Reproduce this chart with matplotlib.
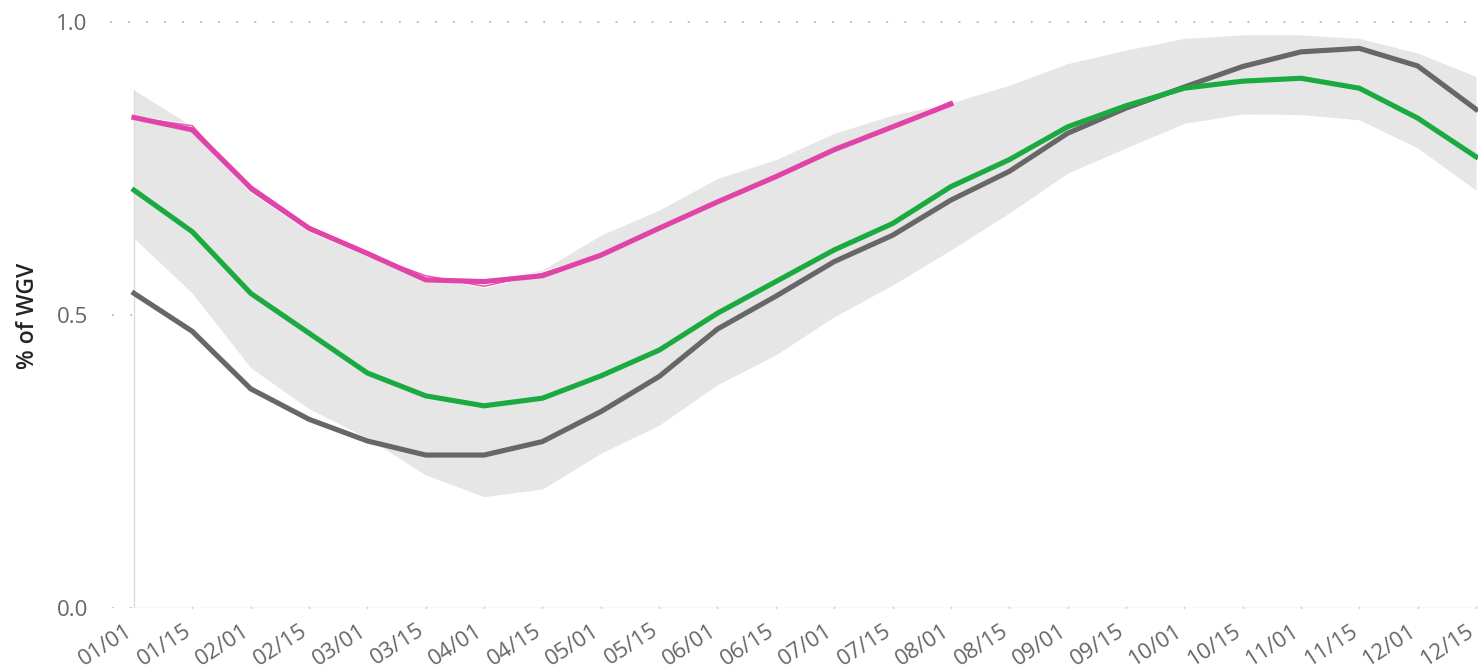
from __future__ import annotations

import matplotlib

matplotlib.use("Agg")
import matplotlib.patheffects as pe
import matplotlib.pyplot as plt
from matplotlib.transforms import ScaledTranslation

DATES = [
    "01/01", "01/15", "02/01", "02/15", "03/01", "03/15", "04/01", "04/15",
    "05/01", "05/15", "06/01", "06/15", "07/01", "07/15", "08/01", "08/15",
    "09/01", "09/15", "10/01", "10/15", "11/01", "11/15", "12/01", "12/15",
]

# range of past years (shaded band)
BAND_LOW = [
    0.631, 0.537, 0.410, 0.340, 0.290, 0.227, 0.190, 0.203,
    0.264, 0.312, 0.381, 0.432, 0.497, 0.551, 0.611, 0.674,
    0.742, 0.785, 0.827, 0.843, 0.842, 0.833, 0.785, 0.713,
]
BAND_HIGH = [
    0.884, 0.822, 0.715, 0.645, 0.603, 0.566, 0.557, 0.577,
    0.636, 0.679, 0.733, 0.765, 0.810, 0.841, 0.862, 0.892,
    0.929, 0.952, 0.972, 0.978, 0.978, 0.972, 0.947, 0.907,
]
GRAY = [
    0.537, 0.472, 0.374, 0.322, 0.285, 0.261, 0.261, 0.284,
    0.335, 0.395, 0.476, 0.532, 0.591, 0.636, 0.696, 0.745,
    0.810, 0.853, 0.889, 0.924, 0.949, 0.955, 0.925, 0.851,
]
GREEN = [
    0.713, 0.642, 0.537, 0.469, 0.401, 0.362, 0.345, 0.358,
    0.396, 0.440, 0.503, 0.557, 0.611, 0.656, 0.719, 0.765,
    0.821, 0.857, 0.887, 0.899, 0.904, 0.887, 0.836, 0.770,
]
# current year, only up to 08/01
PINK = [
    0.837, 0.816, 0.717, 0.648, 0.605, 0.560, 0.557, 0.567,
    0.602, 0.648, 0.693, 0.736, 0.782, 0.821, 0.860,
]
PINK_THIN = [
    0.837, 0.823, 0.712, 0.645, 0.603, 0.567, 0.549, 0.571,
    0.602, 0.648, 0.693, 0.736, 0.782, 0.821, 0.864,
]

FONT = ["Open Sans", "DejaVu Sans"]
TICK_COLOR = "#666666"


def main() -> None:
    plt.rcParams["font.family"] = FONT
    fig = plt.figure(figsize=(14.78, 6.68), dpi=100)
    ax = fig.add_axes([110 / 1478, 60 / 668, 1368 / 1478, 603.6 / 668])

    x = list(range(len(DATES)))
    ax.fill_between(x, BAND_LOW, BAND_HIGH, color="#e6e6e6", linewidth=0, zorder=1)
    ax.vlines(0, 0, BAND_HIGH[0], color="#dcdcdc", linewidth=1, zorder=2)
    ax.plot([0, x[-1] + 1], [0, 0], color="#e2e2e2", linewidth=1, zorder=2)

    # dotted gridlines, the plot area hides them except at the top
    ax.axhline(1.0, color="#b8b8b8", linestyle=(0, (1, 9)), linewidth=1.3, zorder=0)
    for level in (0.0, 0.5):
        ax.plot([-1, 0], [level, level], color="#b8b8b8", linestyle=(0, (1, 9)),
                linewidth=1.3, zorder=0)
    ax.plot(x[1:], [0.0] * (len(x) - 1), linestyle="none", marker="|",
            markersize=3, color="#d0d0d0", zorder=2)

    ax.plot(x, GRAY, color="#676767", linewidth=3.7, zorder=3)
    ax.plot(x, GREEN, color="#1aaa3f", linewidth=3.7, zorder=4)
    ax.plot(
        x[: len(PINK_THIN)],
        PINK_THIN,
        color="#e35bb2",
        linewidth=1.1,
        zorder=5,
        path_effects=[pe.Stroke(linewidth=2.4, foreground="white"), pe.Normal()],
    )
    ax.plot(x[: len(PINK)], PINK, color="#e044a8", linewidth=3.7, zorder=6)

    ax.set_xlim(-24 / 58.35, 23 + 2 / 58.35)
    ax.set_ylim(0, 1.03)
    ax.set_yticks([0.0, 0.5, 1.0], ["0.0", "0.5", "1.0"])
    ax.set_xticks(x, DATES)
    ax.tick_params(axis="y", length=0, pad=16, labelsize=16, labelcolor=TICK_COLOR)
    ax.tick_params(axis="x", length=0, pad=0, labelsize=16, labelcolor=TICK_COLOR)
    shift = ScaledTranslation(-9 / 100, -12 / 100, fig.dpi_scale_trans)
    for label in ax.get_xticklabels():
        label.set_rotation(33)
        label.set_ha("right")
        label.set_va("top")
        label.set_rotation_mode("anchor")
        label.set_transform(label.get_transform() + shift)
    for spine in ax.spines.values():
        spine.set_visible(False)

    fig.text(28 / 1478, 1 - 316 / 668, "% of WGV", rotation=90, ha="center",
             va="center", fontsize=16.5, fontweight="semibold", color="#252423")
    fig.savefig("out.png", dpi=100)
    plt.close(fig)


if __name__ == "__main__":
    main()
